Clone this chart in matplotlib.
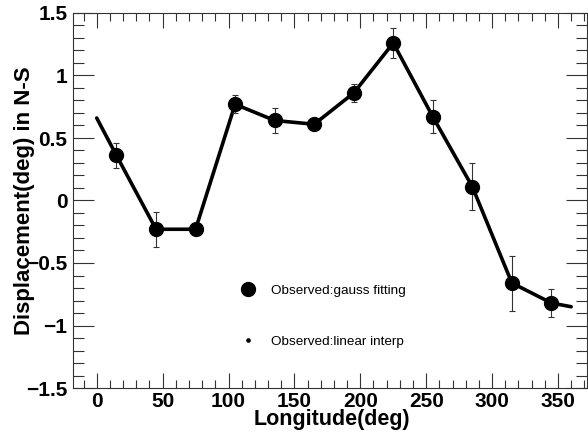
import matplotlib
matplotlib.use("Agg")
import matplotlib.pyplot as plt
from matplotlib.lines import Line2D
from matplotlib.ticker import MultipleLocator, FuncFormatter

plt.rcParams['font.family'] = ['Liberation Sans', 'DejaVu Sans']

# Observed: gauss fitting
lon = [15, 45, 75, 105, 135, 165, 195, 225, 255, 285, 315, 345]
disp = [0.36, -0.23, -0.23, 0.77, 0.64, 0.61, 0.86, 1.26, 0.67, 0.11, -0.66, -0.82]
err = [0.10, 0.14, 0.05, 0.07, 0.10, 0.04, 0.07, 0.12, 0.13, 0.19, 0.22, 0.11]

# Observed: linear interp (knots of the interpolated curve)
interp_lon = [0, 15, 45, 75, 105, 135, 165, 195, 225, 255, 285, 315, 345, 360]
interp_disp = [0.66, 0.36, -0.23, -0.23, 0.77, 0.64, 0.61, 0.86, 1.26, 0.67, 0.11, -0.66, -0.82, -0.85]

fig = plt.figure(figsize=(5.88, 4.4), dpi=100)
ax = fig.add_axes([73/588, 1-388/440, (587-73)/588, (388-13)/440])

ax.plot(interp_lon, interp_disp, color='black', lw=2.6, solid_capstyle='round', zorder=2)
ax.errorbar(lon, disp, yerr=err, fmt='none', ecolor='#333333', elinewidth=0.8,
            capsize=2.5, capthick=0.8, zorder=3)
ax.plot(lon, disp, 'o', color='black', ms=10, zorder=4)

ax.set_xlim(-18, 372)
ax.set_ylim(-1.5, 1.5)
ax.xaxis.set_major_locator(MultipleLocator(50))
ax.xaxis.set_minor_locator(MultipleLocator(10))
ax.yaxis.set_major_locator(MultipleLocator(0.5))
ax.yaxis.set_minor_locator(MultipleLocator(0.1))


def root_fmt(v, pos):
    s = ('%g' % round(v, 6))
    if s == '-0':
        s = '0'
    return s.replace('-', '\u2212')


ax.xaxis.set_major_formatter(FuncFormatter(root_fmt))
ax.yaxis.set_major_formatter(FuncFormatter(root_fmt))
ax.tick_params(which='both', direction='in', top=True, right=True, width=0.8, color='#333333')
ax.tick_params(axis='x', which='major', length=11)
ax.tick_params(axis='x', which='minor', length=5.5)
ax.tick_params(axis='y', which='major', length=15)
ax.tick_params(axis='y', which='minor', length=8)
ax.tick_params(axis='x', labelsize=15, pad=3)
ax.tick_params(axis='y', labelsize=15, pad=4)
for lab in ax.get_xticklabels() + ax.get_yticklabels():
    lab.set_fontweight('bold')
for s in ax.spines.values():
    s.set_linewidth(0.8)
    s.set_color('#333333')

ax.set_xlabel('Longitude(deg)', fontsize=15.5, fontweight='bold', va='top')
ax.xaxis.set_label_coords(0.504, -0.055)
ax.set_ylabel('Displacement(deg) in N-S', fontsize=16, fontweight='bold')
ax.yaxis.set_label_coords(-0.074, 0.499)

h1 = Line2D([], [], marker='o', color='black', ls='none', ms=10)
h2 = Line2D([], [], marker='o', color='black', ls='none', ms=2.3)
ax.legend([h1, h2], ['Observed:gauss fitting', 'Observed:linear interp'],
          loc='center left', bbox_to_anchor=(235/588, 1-316/440),
          bbox_transform=fig.transFigure, frameon=False, fontsize=9.7,
          handlelength=1.0, handletextpad=1.15, labelspacing=2.85, borderpad=0)

fig.savefig('out.png', dpi=100)
